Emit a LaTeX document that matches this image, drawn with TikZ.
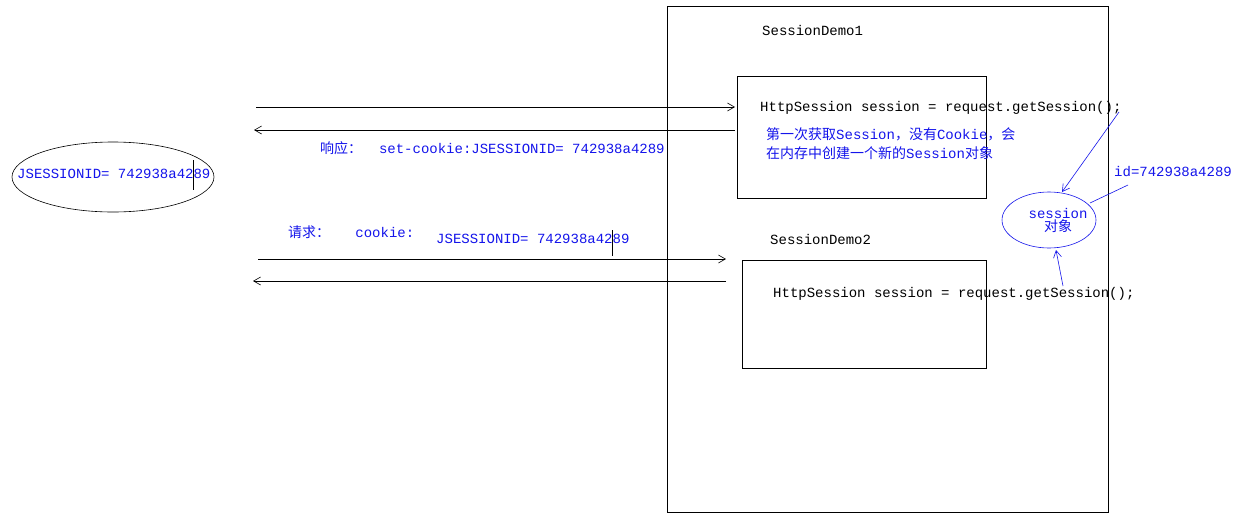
\documentclass[tikz,border=0pt]{standalone}
\usepackage{fontspec}
\setmonofont{Liberation Mono}
\newfontfamily\cjk{Noto Sans CJK SC}
\usetikzlibrary{arrows.meta,shapes.geometric}
\definecolor{tb}{RGB}{20,20,235}
\begin{document}
\begin{tikzpicture}[x=1pt,y=-1pt,
  every node/.style={inner sep=0pt,anchor=west,font=\fontsize{14}{16}\selectfont\ttfamily},
  blk/.style={text=black},
  blu/.style={text=tb},
  arr/.style={-{Straight Barb[length=7pt,width=8pt]},line width=0.6pt},
  barr/.style={tb,-{Straight Barb[length=7pt,width=8pt]},line width=0.6pt}]
\useasboundingbox[fill=white] (0,0) rectangle (1243,517);
\draw[line width=0.6pt] (667,6) rectangle (1108,512);
\node[blk] (d1) at (762,30) {SessionDemo1};
\draw[line width=0.6pt] (737,76) rectangle (986,198);
\node[blk] (c1) at (760,108) {HttpSession session = request.getSession();};
\node[blu] (t1) at (766,134) {{\cjk 第一次获取}Session{\cjk ，没有}Cookie{\cjk ，会}};
\node[blu] (t2) at (766,153) {{\cjk 在内存中创建一个新的}Session{\cjk 对象}};
\node[blk] (d2) at (770,239) {SessionDemo2};
\draw[line width=0.6pt] (742,260) rectangle (986,368);
\node[blk] (c2) at (773,294) {HttpSession session = request.getSession();};
\node[draw=tb,line width=0.6pt,ellipse,minimum width=94pt,minimum height=56pt,anchor=center] (so) at (1049,220) {};
\node[blu,anchor=center,align=center] at (1058,220) {session\\[-3pt]{\cjk 对象}};
\node[blu] (id) at (1114,172) {id=742938a4289};
\coordinate (a1) at (1119,112);
\draw[barr] (a1) -- (1062,192);
\coordinate (a2) at (1063,286);
\draw[barr] (a2) -- (1056,250);
\draw[tb,line width=0.6pt] (1128,185) -- (1090,203);
\node[draw=black,line width=0.6pt,ellipse,minimum width=202pt,minimum height=70pt,anchor=center] (ce) at (113,177) {};
\node[blu] at (17,174) {JSESSIONID= 742938a4289};
\draw[line width=0.6pt] (193,160) -- (193,190);
\coordinate (l1) at (256,107); \coordinate (r1) at (735,107);
\draw[arr] (l1) -- (r1);
\coordinate (l2) at (254,130); \coordinate (r2) at (735,130);
\draw[arr] (r2) -- (l2);
\node[blu] at (320,148) {{\cjk 响应：}\ \ set-cookie:JSESSIONID= 742938a4289};
\node[blu] at (288,232) {{\cjk 请求：}\ \ \ cookie:};
\node[blu] at (436,239) {JSESSIONID= 742938a4289};
\draw[line width=0.6pt] (612,230) -- (612,256);
\coordinate (l3) at (258,259); \coordinate (r3) at (726,259);
\draw[arr] (l3) -- (r3);
\coordinate (l4) at (253,281); \coordinate (r4) at (726,281);
\draw[arr] (r4) -- (l4);
\end{tikzpicture}
\end{document}
